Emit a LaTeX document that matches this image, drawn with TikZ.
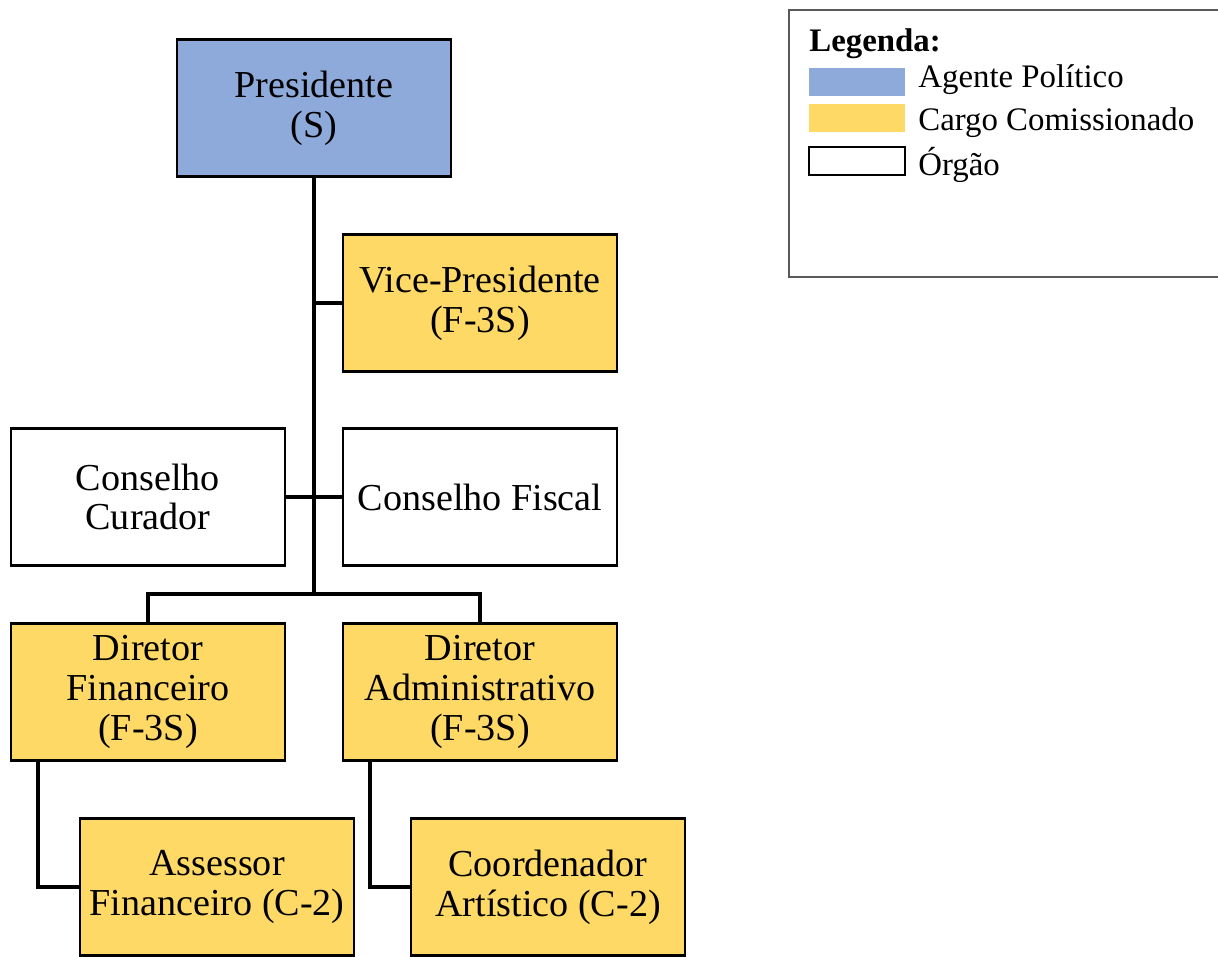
\documentclass[tikz,border=0pt]{standalone}
\usepackage{fontspec}
\setmainfont{Liberation Serif}
\definecolor{agente}{HTML}{8EAADB}
\definecolor{cargo}{HTML}{FFD966}
\tikzset{
	cargobox/.style = {draw, line width=1.5pt, fill=#1, minimum width=5.48cm, minimum height=2.74cm, inner sep=0pt, align=center, font=\fontsize{21.7}{22.7}\selectfont},
	cargobox/.default = white,
	link/.style = {line width=1.8pt},
	swatch/.style = {minimum width=1.92cm, minimum height=0.56cm, inner sep=0pt, fill=#1},
	legtext/.style = {anchor=west, inner sep=0pt, font=\fontsize{18.7}{22}\selectfont}
}
\begin{document}
\begin{tikzpicture}[x=0.02cm, y=-0.02cm]
		\useasboundingbox (0,0) rectangle (1218,957);
		% organograma
		\node[cargobox=agente] (pres) at (314,108) {Presidente\\(S)};
		\node[cargobox=cargo] (vice) at (480,303) {Vice-Presidente\\(F-3S)};
		\node[cargobox] (ccur) at (148,497) {Conselho\\Curador};
		\node[cargobox] (cfis) at (480,497) {Conselho Fiscal};
		\node[cargobox=cargo] (dfin) at (148,692) {Diretor\\Financeiro\\(F-3S)};
		\node[cargobox=cargo] (dadm) at (480,692) {Diretor\\Administrativo\\(F-3S)};
		\node[cargobox=cargo] (asfin) at (217,887) {Assessor\\Financeiro (C-2)};
		\node[cargobox=cargo] (coart) at (548,887) {Coordenador\\Artístico (C-2)};
		\coordinate (tronco) at (314,594);
		\draw[link] (pres.south) -- (tronco);
		\draw[link] (vice.west) -- (vice.west -| tronco);
		\draw[link] (ccur.east) -- (cfis.west);
		\draw[link] (dfin.north) |- (tronco) -| (dadm.north);
		\draw[link] ([xshift=-2.2cm]dfin.south) |- (asfin.west);
		\draw[link] ([xshift=-2.2cm]dadm.south) |- (coart.west);
		% legenda
		\draw[gray!70!black, line width=0.8pt] (1218,10) -- (789,10) -- (789,277) -- (1218,277);
		\node[legtext, font=\fontsize{18.7}{22}\selectfont\bfseries] (leg) at (809,44) {Legenda:};
		\node[swatch=agente] (sw1) at (857,82) {};
		\node[swatch=cargo] (sw2) at (857,118) {};
		\node[swatch=white, draw, line width=1.5pt] (sw3) at (857,161) {};
		\node[legtext] at (918,80) {Agente Político};
		\node[legtext] at (918,123) {Cargo Comissionado};
		\node[legtext] at (918,165) {Órgão};
	\end{tikzpicture}
\end{document}
